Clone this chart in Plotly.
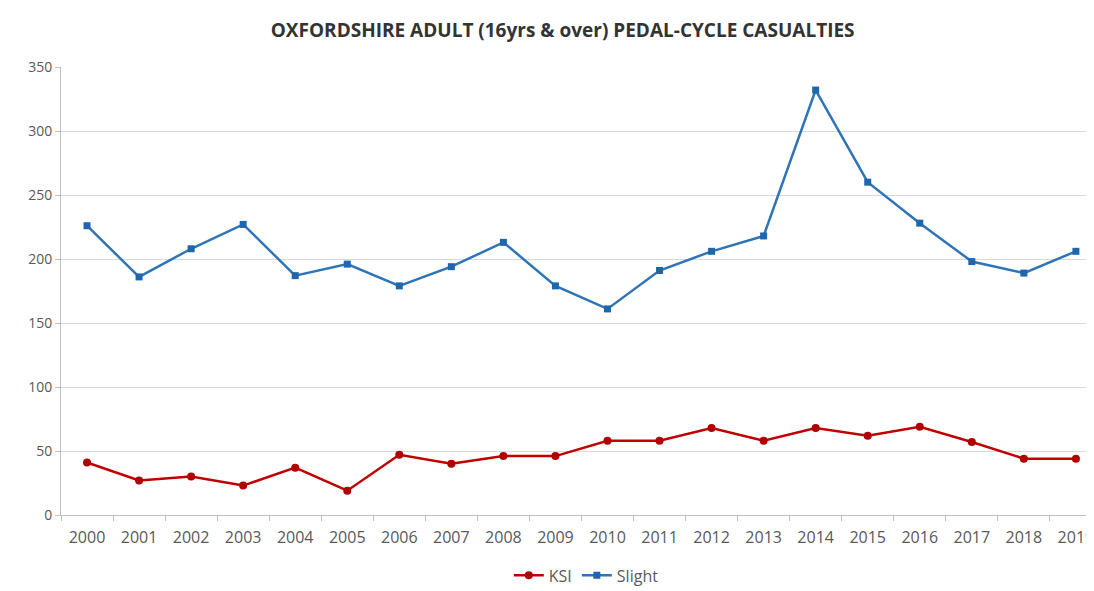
import plotly.graph_objects as go

years = [str(y) for y in range(2000, 2020)]
ksi = [41, 27, 30, 23, 37, 19, 47, 40, 46, 46, 58, 58, 68, 58, 68, 62, 69, 57, 44, 44]
slight = [226, 186, 208, 227, 187, 196, 179, 194, 213, 179, 161, 191, 206, 218, 332, 260, 228, 198, 189, 206]

fig = go.Figure()
fig.add_trace(go.Scatter(x=years, y=ksi, name='KSI', mode='lines+markers',
                         line=dict(color='#C00000', width=2.5),
                         marker=dict(symbol='circle', size=8, color='#B00000')))
fig.add_trace(go.Scatter(x=years, y=slight, name='Slight', mode='lines+markers',
                         line=dict(color='#2F75B5', width=2.5),
                         marker=dict(symbol='square', size=7, color='#1F66AE')))

# page body has an 8px margin, so offsets below are shifted by -8
fig.update_layout(
    width=1094, height=591,
    paper_bgcolor='white', plot_bgcolor='white',
    margin=dict(l=53, r=8, t=59, b=84),
    title=dict(text='<b>OXFORDSHIRE ADULT (16yrs &amp; over) PEDAL-CYCLE CASUALTIES</b>',
               x=0.507, xanchor='center', y=0.963, yanchor='middle',
               font=dict(family='Open Sans', size=19, color='#333333')),
    font=dict(family='Open Sans', size=14, color='#595959'),
    showlegend=True,
    legend=dict(orientation='h', x=0.51, xanchor='center', yref='container', y=0.04,
                yanchor='middle', font=dict(size=16, color='#595959')),
)
fig.update_xaxes(type='category', range=[-0.5, 19.29], showline=True, linecolor='#BFBFBF',
                 ticks='outside', tickson='boundaries', ticklen=5, tickcolor='#BFBFBF',
                 showgrid=False, tickfont=dict(size=16), ticklabelstandoff=8)
fig.update_yaxes(range=[0, 350], dtick=50, showline=True, linecolor='#BFBFBF',
                 gridcolor='#D9D9D9', zeroline=False, ticks='outside', ticklen=5,
                 tickcolor='#BFBFBF', tickfont=dict(size=14))

fig.write_html("out.html")
